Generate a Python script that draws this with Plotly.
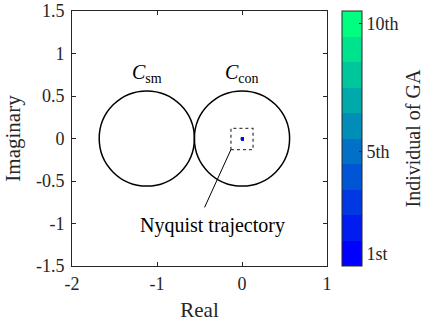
import plotly.graph_objects as go

# Circle regions in the complex plane
circle_names = ["<i>C</i><sub>sm</sub>", "<i>C</i><sub>con</sub>"]
circle_cx = [-1.12, 0.0]
circle_cy = [0.0, 0.0]
circle_r = [0.56, 0.56]

# Nyquist trajectory points of the GA individuals (tiny, near origin)
individual = [10, 9, 8, 7, 6, 5, 4, 3, 2, 1]
traj_re = [0.005, 0.005, 0.005, 0.005, 0.005, 0.005, 0.005, 0.005, 0.005, 0.005]
traj_im = [-0.005, -0.005, -0.005, -0.005, -0.005, -0.005, -0.005, -0.005, -0.005, -0.005]

# Zoom box around the trajectory
box_x = [-0.13, 0.13]
box_y = [-0.13, 0.12]

# Colorbar ticks
cb_vals = [1, 5, 10]
cb_text = ["1st", "5th", "10th"]

x_ticks = [-2, -1, 0, 1]
y_ticks = [-1.5, -1, -0.5, 0, 0.5, 1, 1.5]

# MATLAB "winter" colormap, 10 discrete levels
n = 10
colors = []
for i in range(n):
    g = i / (n - 1)
    colors.append("rgb(0,%d,%d)" % (round(255 * g), round(255 * (1 - 0.5 * g))))
colorscale = []
for i, c in enumerate(colors):
    colorscale.append([i / n, c])
    colorscale.append([(i + 1) / n, c])

FONT = "Liberation Serif"
AX = "#262626"

fig = go.Figure()
fig.add_trace(go.Scatter(
    x=traj_re, y=traj_im, mode="markers",
    marker=dict(size=3, symbol="square", color=individual, colorscale=colorscale,
                cmin=0.5, cmax=10.5,
                colorbar=dict(
                    x=1.0588, xanchor="left", xref="paper", xpad=0, ypad=0,
                    y=0.5, yanchor="middle", len=1.0, lenmode="fraction",
                    thickness=20, thicknessmode="pixels",
                    outlinecolor=AX, outlinewidth=1,
                    tickvals=cb_vals, ticktext=cb_text,
                    ticks="inside", ticklen=3, tickcolor=AX,
                    tickfont=dict(family=FONT, size=18, color=AX),
                )),
    showlegend=False, hoverinfo="skip",
))

shapes = []
for cx, cy, r in zip(circle_cx, circle_cy, circle_r):
    shapes.append(dict(type="circle", xref="x", yref="y",
                       x0=cx - r, x1=cx + r, y0=cy - r, y1=cy + r,
                       line=dict(color="black", width=1.5)))
shapes.append(dict(type="rect", xref="x", yref="y",
                   x0=box_x[0], x1=box_x[1], y0=box_y[0], y1=box_y[1],
                   line=dict(color="#444444", width=1.3, dash="dot")))
# leader line from label to the zoom box
shapes.append(dict(type="line", xref="x", yref="y",
                   x0=-0.44, y0=-0.81, x1=box_x[0], y1=box_y[0],
                   line=dict(color="black", width=1)))

annotations = []
for name, cx, r in zip(circle_names, circle_cx, circle_r):
    annotations.append(dict(x=cx, y=r + 0.04, xref="x", yref="y", text=name,
                            showarrow=False, yanchor="bottom",
                            font=dict(family=FONT, size=20, color="black")))
annotations.append(dict(x=-0.35, y=-1.02, xref="x", yref="y", text="Nyquist trajectory",
                        showarrow=False, font=dict(family=FONT, size=20, color="black")))
# colorbar title
annotations.append(dict(x=1.337, y=0.5, xref="paper", yref="paper", text="Individual of GA",
                        textangle=-90, showarrow=False, xanchor="center", yanchor="middle",
                        font=dict(family=FONT, size=20, color=AX)))

axis_common = dict(showgrid=False, zeroline=False, showline=True, linecolor=AX, linewidth=1,
                   mirror="ticks", ticks="inside", ticklen=4, tickcolor=AX,
                   tickfont=dict(family=FONT, size=18, color=AX))

fig.update_layout(
    width=425, height=328,
    margin=dict(l=72, r=98, t=11, b=62, autoexpand=False),
    paper_bgcolor="white", plot_bgcolor="white",
    shapes=shapes, annotations=annotations,
    xaxis=dict(range=[-2, 1], tickvals=x_ticks, ticktext=[str(v) for v in x_ticks],
               ticklabelstandoff=1,
               title=dict(text="Real", font=dict(family=FONT, size=21, color=AX), standoff=9),
               **axis_common),
    yaxis=dict(range=[-1.5, 1.5], tickvals=y_ticks,
               ticktext=["-1.5", "-1", "-0.5", "0", "0.5", "1", "1.5"],
               ticklabelstandoff=3,
               title=dict(text="Imaginary", font=dict(family=FONT, size=21, color=AX), standoff=9),
               **axis_common),
)

fig.write_html("out.html")
